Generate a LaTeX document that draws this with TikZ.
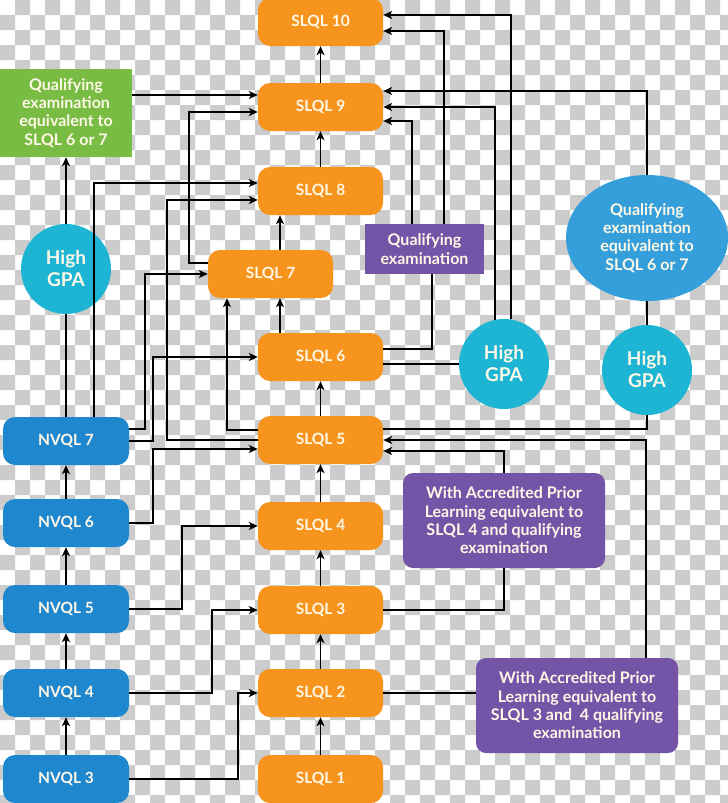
\documentclass[tikz,border=0pt]{standalone}
\usepackage{fontspec}
\newfontfamily\lato{Lato}
\usetikzlibrary{arrows.meta,shapes.geometric}
\definecolor{orng}{RGB}{247,148,29}
\definecolor{nblue}{RGB}{31,135,206}
\definecolor{gpacol}{RGB}{29,181,211}
\definecolor{ellcol}{RGB}{52,159,219}
\definecolor{grn}{RGB}{120,188,67}
\definecolor{purp}{RGB}{115,84,167}
\definecolor{txt}{RGB}{255,248,231}
\definecolor{chk}{RGB}{204,204,204}
\tikzset{
  box/.style={inner sep=0pt, align=center, text=txt, font=\lato\bfseries\fontsize{15.5}{18.3}\selectfont},
  slql/.style={box, fill=orng, rounded corners=12pt, minimum width=125pt, minimum height=48pt},
  nvql/.style={box, fill=nblue, rounded corners=12pt, minimum width=126pt, minimum height=48pt},
  gpa/.style={box, circle, fill=gpacol, minimum size=90pt, font=\lato\bfseries\fontsize{19}{22}\selectfont},
  multi/.style={box, font=\lato\bfseries\fontsize{16}{18.3}\selectfont},
  ln/.style={line width=1.8pt, black},
  arr/.style={ln, -{Stealth[length=9pt,width=8pt,inset=2.5pt]}}
}
\begin{document}
\begin{tikzpicture}[x=1pt,y=-1pt]
\useasboundingbox (0,0) rectangle (728,803);
\clip (0,0) rectangle (728,803);
\fill[white] (0,0) rectangle (728,803);
% checkerboard background
\foreach \j in {0,...,53} {
  \pgfmathtruncatemacro\s{mod(\j+1,2)}
  \fill[chk] \foreach \i in {0,...,24} { ({(2*\i+\s)*15},{\j*15}) rectangle ++(15,15) };
}
% SLQL column
\node[slql] (s10) at (320.5,22) {SLQL 10};
\node[slql] (s9) at (320.5,107) {SLQL 9};
\node[slql] (s8) at (320.5,191) {SLQL 8};
\node[slql] (s7) at (270.5,274) {SLQL 7};
\node[slql] (s6) at (320.5,357) {SLQL 6};
\node[slql] (s5) at (320.5,440) {SLQL 5};
\node[slql] (s4) at (320.5,526) {SLQL 4};
\node[slql] (s3) at (320.5,610) {SLQL 3};
\node[slql] (s2) at (320.5,693) {SLQL 2};
\node[slql] (s1) at (320.5,779) {SLQL 1};
% NVQL column
\node[nvql] (n7) at (66,441) {NVQL 7};
\node[nvql] (n6) at (66,523) {NVQL 6};
\node[nvql] (n5) at (66,609) {NVQL 5};
\node[nvql] (n4) at (66,693) {NVQL 4};
\node[nvql] (n3) at (66,779) {NVQL 3};
% other nodes
\node[multi, fill=grn, minimum width=132pt, minimum height=88pt] (green) at (66,113) {Qualifying\\examination\\equivalent to\\SLQL 6 or 7};
\node[gpa] (gpa1) at (66,269) {High\\GPA};
\node[multi, fill=purp, minimum width=119pt, minimum height=50pt] (qe) at (424.5,249) {Qualifying\\examination};
\node[multi, ellipse, fill=ellcol, minimum width=162pt, minimum height=126pt] (ell) at (647,238) {Qualifying\\examination\\equivalent to\\SLQL 6 or 7};
\node[gpa] (gpa2) at (504,364) {High\\GPA};
\node[gpa] (gpa3) at (647,370) {High\\GPA};
\node[multi, fill=purp, rounded corners=10pt, minimum width=202pt, minimum height=95pt] (apl1) at (504,520.5) {With Accredited Prior\\Learning equivalent to\\SLQL 4 and qualifying\\examination};
\node[multi, fill=purp, rounded corners=10pt, minimum width=202pt, minimum height=95pt] (apl2) at (577,705.5) {With Accredited Prior\\Learning equivalent to\\SLQL 3 and~ 4 qualifying\\examination};
% SLQL chain
\draw[arr] (s1.north) -- (s2.south);
\draw[arr] (s2.north) -- (s3.south);
\draw[arr] (s3.north) -- (s4.south);
\draw[arr] (s4.north) -- (s5.south);
\draw[arr] (s5.north) -- (s6.south);
\draw[arr] ([xshift=-40.5pt]s6.north) -- ([xshift=9.5pt]s7.south);
\draw[arr] ([xshift=9.5pt]s7.north) -- ([xshift=-40.5pt]s8.south);
\draw[arr] (s8.north) -- (s9.south);
\draw[arr] (s9.north) -- (s10.south);
% NVQL chain
\draw[arr] (n3.north) -- (n4.south);
\draw[arr] (n4.north) -- (n5.south);
\draw[arr] (n5.north) -- (n6.south);
\draw[arr] (n6.north) -- (n7.south);
% NVQL to SLQL
\draw[arr] (n3.east) -- (238,779) |- (s2.west);
\draw[arr] (n4.east) -- (212,693) |- (s3.west);
\draw[arr] (n5.east) -- (182,609) |- (s4.west);
\draw[arr] (n6.east) -- (153,523) |- ([yshift=-9pt]s5.west);
\draw[arr] ([yshift=12pt]n7.east) -- (145,429) |- (s7.west);
\draw[arr] (n7.east) -- (153,441) |- (s6.west);
\draw[arr] ([xshift=28pt]n7.north) |- ([yshift=8pt]s8.west);
\draw[ln] (n7.north) -- (gpa1.south);
\draw[arr] (gpa1.north) -- (green.south);
\draw[arr] ([yshift=18pt]green.east) -- ([yshift=12pt]s9.west);
% SLQL skips on the left
\draw[arr] ([yshift=11pt]s7.west) -- (189,263) |- ([yshift=-5pt]s9.west);
\draw[arr] (s5.west) -- (167,440) |- ([yshift=-9pt]s8.west);
\draw[arr] ([yshift=10pt]s5.west) -| ([xshift=-43.5pt]s7.south);
% right side
\draw[arr] ([xshift=-12.5pt]qe.north) |- ([yshift=-14pt]s9.east);
\draw[arr] ([xshift=19.5pt]qe.north) |- ([yshift=-9pt]s10.east);
\draw[arr] (gpa2.101.5) |- (s9.east);
\draw[arr] (gpa2.81) |- ([yshift=7pt]s10.east);
\draw[arr] (ell.north) |- ([yshift=16pt]s9.east);
\draw[ln] ([yshift=8pt]s6.east) -| ([xshift=7.5pt]qe.south);
\draw[ln] ([yshift=-7pt]s6.east) -- (gpa2.west);
\draw[ln] (ell.south) -- (gpa3.north);
\draw[ln] (gpa3.south) |- ([yshift=11pt]s5.east);
\draw[arr] ([xshift=69pt]apl2.north) |- (s5.east);
\draw[arr] (apl1.north) |- ([yshift=-11pt]s5.east);
\draw[ln] (apl1.south) |- (s3.east);
\draw[ln] ([yshift=12.5pt]apl2.west) -- (s2.east);
\end{tikzpicture}
\end{document}
